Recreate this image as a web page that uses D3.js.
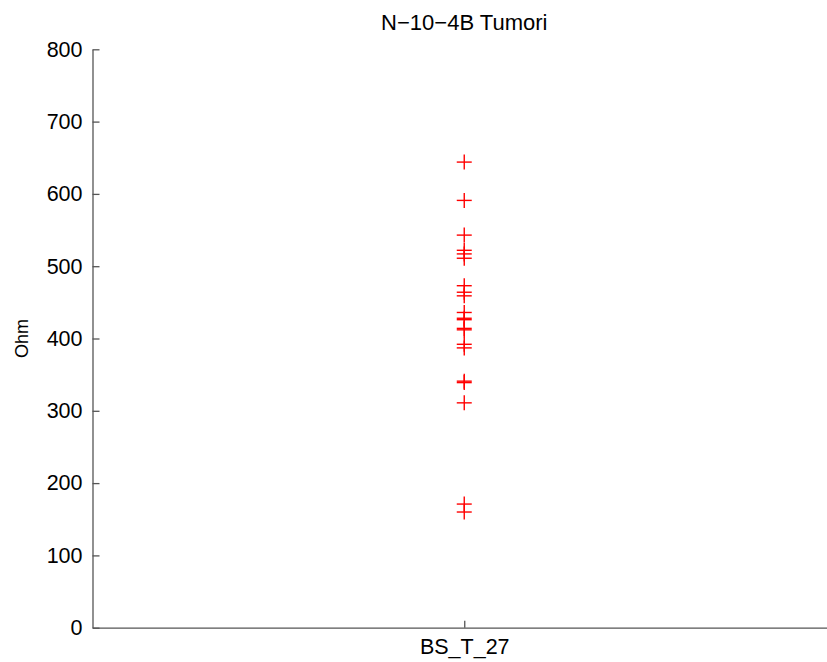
<!DOCTYPE html>
<html>
<head>
<meta charset="utf-8">
<script src="https://cdn.jsdelivr.net/npm/d3@7"></script>
<style>
  body { margin: 0; background: #fff; }
  text { font-family: "Liberation Sans", Arial, sans-serif; fill: #000; }
</style>
</head>
<body>
<div id="chart"></div>
<script>
var width = 827, height = 662;

// data
var categories = ["BS_T_27"];
var ohmValues = [644, 591, 543, 522, 517, 511, 473, 464, 459, 436, 428, 426,
                 414, 412, 392, 387, 341, 339, 311, 171, 160];
var yTicks = [0, 100, 200, 300, 400, 500, 600, 700, 800];
var title = "N\u221210\u22124B Tumori";
var yLabel = "Ohm";

var margin = {left: 92.5, right: -9, top: 49.3, bottom: 34.3};

var svg = d3.select("#chart").append("svg")
  .attr("width", width).attr("height", height);

var x = d3.scalePoint()
  .domain(categories)
  .range([margin.left, width - margin.right])
  .padding(0.5);

var y = d3.scaleLinear()
  .domain([0, 800])
  .range([height - margin.bottom, margin.top]);

var axisColor = "#555";

// y axis
var gy = svg.append("g")
  .attr("transform", "translate(" + margin.left + ",0)")
  .call(d3.axisLeft(y).tickValues(yTicks).tickSizeInner(-7).tickSizeOuter(0).tickPadding(10));
gy.select(".domain").attr("stroke", axisColor).attr("stroke-width", 1.3);
gy.selectAll(".tick line").attr("stroke", axisColor).attr("stroke-width", 1.3);
gy.selectAll(".tick text").attr("font-size", 21.5)
  .attr("font-family", "'Liberation Sans', Arial, sans-serif").attr("fill", "#000");

// x axis
var gx = svg.append("g")
  .attr("transform", "translate(0," + (height - margin.bottom) + ")")
  .call(d3.axisBottom(x).tickSizeInner(-7).tickSizeOuter(0).tickPadding(11));
gx.select(".domain").attr("stroke", axisColor).attr("stroke-width", 1.3);
gx.selectAll(".tick line").attr("stroke", axisColor).attr("stroke-width", 1.3);
gx.selectAll(".tick text").attr("font-size", 21.5)
  .attr("font-family", "'Liberation Sans', Arial, sans-serif").attr("fill", "#000");

// title and y label
svg.append("text")
  .attr("x", x(categories[0]))
  .attr("y", 30)
  .attr("text-anchor", "middle")
  .style("font-size", "22px")
  .text(title);

svg.append("text")
  .attr("transform", "translate(28," + y(400) + ") rotate(-90)")
  .attr("text-anchor", "middle")
  .style("font-size", "18px")
  .text(yLabel);

// plus markers
var s = 7.5;
var marks = svg.append("g").attr("stroke", "#ff0000").attr("stroke-width", 1.4);
ohmValues.forEach(function(v) {
  var cx = x(categories[0]), cy = y(v);
  marks.append("line").attr("x1", cx - s).attr("x2", cx + s).attr("y1", cy).attr("y2", cy);
  marks.append("line").attr("x1", cx).attr("x2", cx).attr("y1", cy - s).attr("y2", cy + s);
});
</script>
</body>
</html>
